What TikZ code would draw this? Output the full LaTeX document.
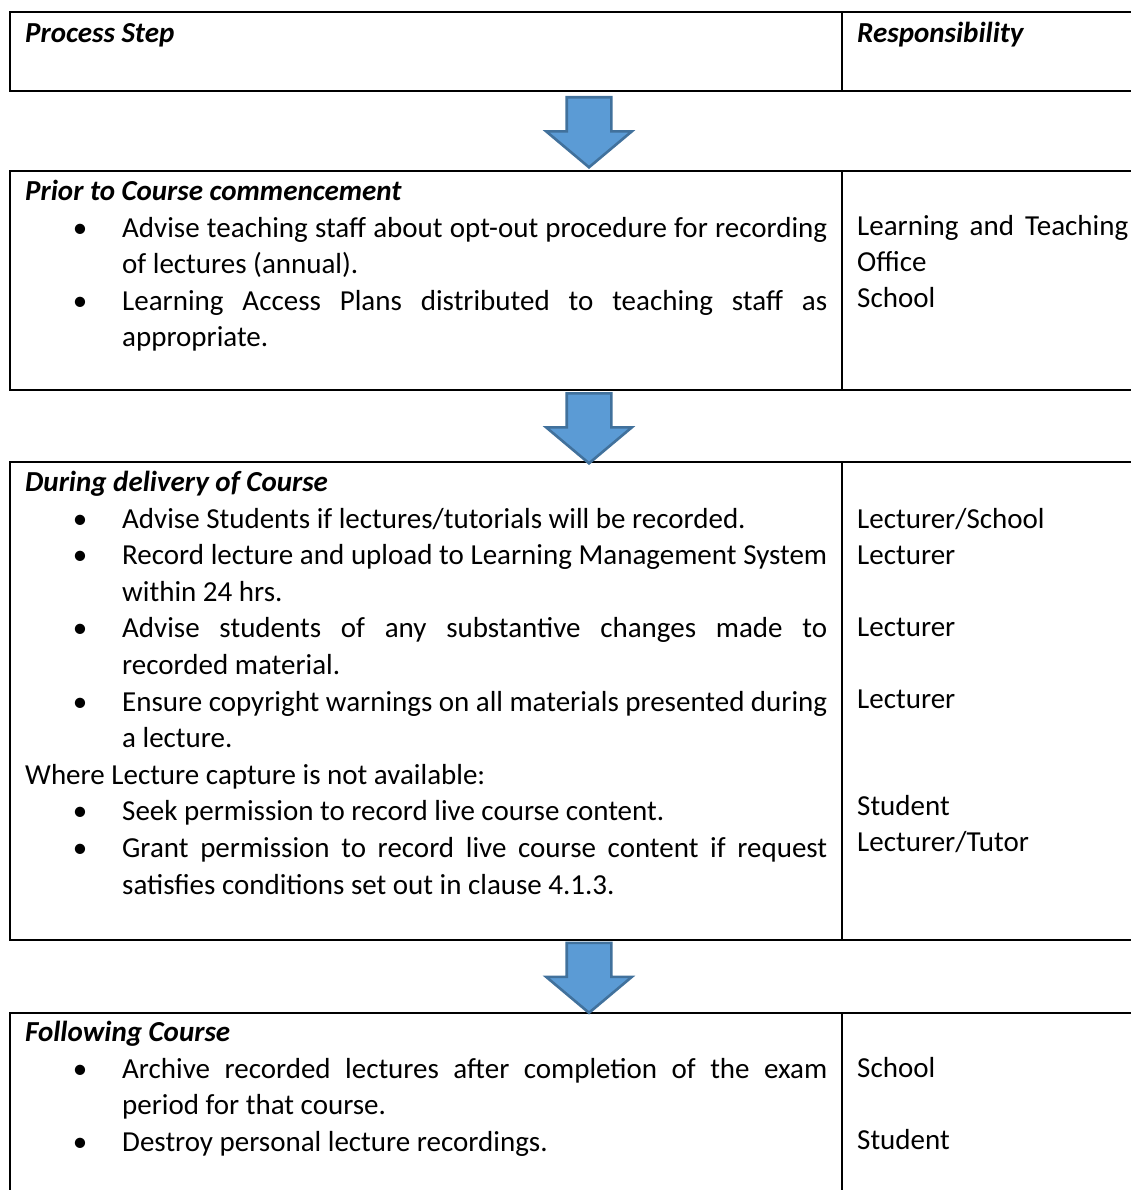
\documentclass[tikz,border=0pt]{standalone}
\usepackage{fontspec}
\setmainfont{Carlito}
\usetikzlibrary{shapes.arrows, positioning, calc}

\hyphenpenalty=10000
\exhyphenpenalty=10000
\tolerance=10000

\definecolor{arrowfill}{HTML}{5B9BD5}
\definecolor{arrowline}{HTML}{41719C}

% bulleted and plain paragraphs inside a step cell
\newcommand{\bitem}{\par\leftskip=97pt\noindent\llap{\makebox[84pt][c]{\textbullet}}}
\newcommand{\plainline}{\par\leftskip=0pt\noindent}
\newcommand{\steptitle}[1]{\noindent{\bfseries\itshape #1}}

\begin{document}
\begin{tikzpicture}[
        x=1pt, y=-1pt,
        % Global Styles
        cell/.style={draw, line width=2pt, anchor=north west, inner sep=0pt, outer sep=0pt},
        steptext/.style={anchor=base west, inner sep=0pt, text width=802pt, align=justify, font=\fontsize{29pt}{36.6pt}\selectfont},
        resptext/.style={anchor=base west, inner sep=0pt, text width=271pt, align=justify, font=\fontsize{29pt}{35.9pt}\selectfont},
        blockarrow/.style={single arrow, draw=arrowline, fill=arrowfill, line width=2.6pt, shape border rotate=270, minimum height=70pt, minimum width=85pt, single arrow head extend=20.5pt, single arrow tip angle=100, inner xsep=21pt, inner ysep=0pt, anchor=tail}
    ]
    \useasboundingbox (0,0) rectangle (1130,1190);
    \coordinate (spine) at (589,0);

    % --- Header row ---
    \node (headStep) [cell, minimum width=832pt, minimum height=79pt] at (10,12) {};
    \node (headResp) [cell, minimum width=303pt, minimum height=79pt] at (headStep.north east) {};
    \node (headStepTxt) [steptext] at ($(headStep.north west)+(15,31)$) {\steptitle{Process Step}\par};
    \node (headRespTxt) [resptext] at ($(headResp.north west)+(15,31)$) {\steptitle{Responsibility}\par};

    % --- Prior to Course ---
    \node (priorStep) [cell, minimum width=832pt, minimum height=219pt] at (10,171) {};
    \node (priorResp) [cell, minimum width=303pt, minimum height=219pt] at (priorStep.north east) {};
    \node (priorStepTxt) [steptext] at ($(priorStep.north west)+(15,29.5)$) {\steptitle{Prior to Course commencement}
        \bitem Advise teaching staff about opt-out procedure for recording\linebreak of lectures (annual).
        \bitem Learning Access Plans distributed to teaching staff as\linebreak appropriate.\par};
    \node (priorRespTxt) [resptext] at ($(priorResp.north west)+(15,65)$) {Learning and Teaching\linebreak Office\par School\par};

    % --- During delivery ---
    \node (duringStep) [cell, minimum width=832pt, minimum height=477.5pt] at (10,462) {};
    \node (duringResp) [cell, minimum width=303pt, minimum height=477.5pt] at (duringStep.north east) {};
    \node (duringStepTxt) [steptext] at ($(duringStep.north west)+(15,29.5)$) {\steptitle{During delivery of Course}
        \bitem Advise Students if lectures/tutorials will be recorded.
        \bitem Record lecture and upload to Learning Management System\linebreak within 24 hrs.
        \bitem Advise students of any substantive changes made to\linebreak recorded material.
        \bitem Ensure copyright warnings on all materials presented during\linebreak a lecture.
        \plainline Where Lecture capture is not available:
        \bitem Seek permission to record live course content.
        \bitem Grant permission to record live course content if request\linebreak satisfies conditions set out in clause 4.1.3.\par};
    \node (duringRespTxt) [resptext] at ($(duringResp.north west)+(15,66.5)$) {Lecturer/School\par Lecturer\par\mbox{}\par Lecturer\par\mbox{}\par Lecturer\par\mbox{}\par\mbox{}\par Student\par Lecturer/Tutor\par};

    % --- Following Course ---
    \node (afterStep) [cell, minimum width=832pt, minimum height=200pt] at (10,1013) {};
    \node (afterResp) [cell, minimum width=303pt, minimum height=200pt] at (afterStep.north east) {};
    \node (afterStepTxt) [steptext] at ($(afterStep.north west)+(15,28.5)$) {\steptitle{Following Course}
        \bitem Archive recorded lectures after completion of the exam\linebreak period for that course.
        \bitem Destroy personal lecture recordings.\par};
    \node (afterRespTxt) [resptext] at ($(afterResp.north west)+(15,64.5)$) {School\par\mbox{}\par Student\par};

    % --- Block arrows between stages ---
    \node (arrowA) [blockarrow] at ($(spine |- headStep.south)+(0,5)$) {};
    \node (arrowB) [blockarrow] at ($(spine |- priorStep.south)+(0,2)$) {};
    \node (arrowC) [blockarrow] at ($(spine |- duringStep.south)+(0,2)$) {};

\end{tikzpicture}
\end{document}
